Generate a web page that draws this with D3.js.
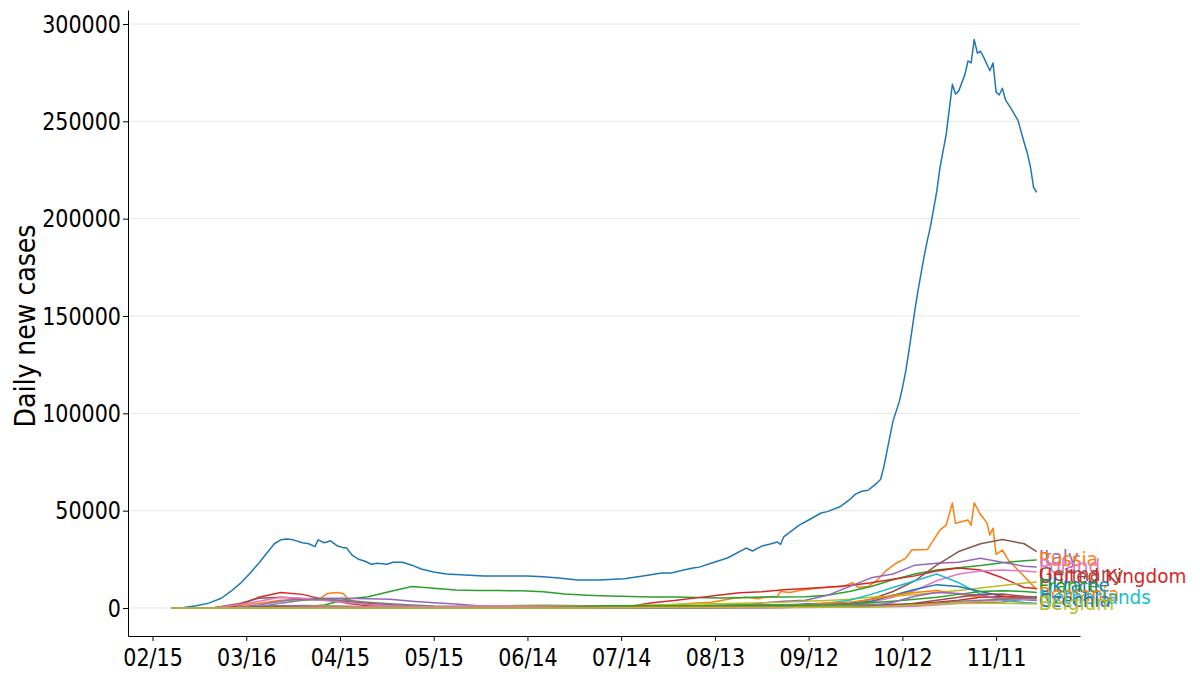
<!DOCTYPE html>
<html>
<head>
<meta charset="utf-8">
<script src="https://cdn.jsdelivr.net/npm/d3@7"></script>
<style>
  body { margin: 0; background: #fff; }
  text { font-family: "DejaVu Sans", sans-serif; }
</style>
</head>
<body>
<div id="chart"></div>
<script>
// days are counted from 2020-02-15
const startDate = new Date(2020, 1, 15);
const tickDays = [0, 30, 60, 90, 120, 150, 180, 210, 240, 270];
const yTicks = [0, 50000, 100000, 150000, 200000, 250000, 300000];

// Europe total (finer sampling)
const europeDays = [6, 10, 14, 18, 22, 25, 28, 31, 34, 37, 39, 41, 43, 45, 48, 50, 52, 53, 55, 57, 59, 61, 62, 64, 66, 68, 70, 72, 75, 77,
  80, 83, 86, 90, 94, 100, 106, 111, 116, 120, 125, 130, 136, 143, 151, 157, 163, 166, 170, 173, 175, 179, 184, 190, 192, 195, 198, 200, 201, 202,
  207, 210, 214, 216, 220, 223, 225, 227, 229, 231, 232, 233, 234, 235, 236, 237, 238, 239, 240, 241, 242, 243, 244, 245, 246, 247, 248, 249, 250, 251,
  252, 254, 256, 257, 258, 260, 261, 262, 263, 264, 265, 266, 268, 269, 270, 271, 272, 273, 275, 277, 279, 280, 281, 282, 283];
const europe = [0, 300, 1200, 2500, 5000, 8500, 12500, 17500, 23000, 29000, 33000, 35000, 35500, 35000, 33500, 33000, 31500, 35000, 33500, 34500, 32000, 31000, 31000, 27000, 25000, 24000, 22500, 23000, 22500, 23500,
  23500, 22000, 20000, 18500, 17500, 17000, 16500, 16400, 16500, 16400, 16000, 15400, 14400, 14400, 15000, 16400, 18000, 18000, 19500, 20500, 21000, 23100, 25700, 30800, 29300, 31800, 33000, 33900, 32600, 36500,
  42600, 45200, 48800, 49500, 52000, 55500, 58500, 60000, 60500, 63000, 64500, 66000, 72000, 80000, 88000, 96000, 101000, 106000, 113000, 121000, 131000, 142000, 153000, 163000, 172000, 181000, 189000, 196000, 205000, 214000,
  226000, 243000, 269000, 264000, 265500, 274000, 281000, 280000, 292000, 285000, 286000, 283000, 276000, 280000, 265000, 263500, 267000, 261000, 256000, 250500, 239000, 233500, 226500, 216000, 213500];

// France (finer sampling in autumn)
const franceDays = [6, 13, 20, 27, 34, 41, 48, 53, 56, 59, 61, 63, 69, 76, 83, 90, 104, 118, 132, 146, 160, 167, 173, 179, 186, 190, 194, 197, 200, 201,
  204, 207, 213, 217, 221, 224, 226, 229, 232, 235, 238, 241, 243, 248, 252, 254, 256, 257, 261, 262, 263, 265, 267, 268, 269, 270, 272, 274, 277, 280,
  282, 283];
const france = [0, 100, 300, 1000, 2500, 4000, 4500, 4200, 7500, 8000, 7500, 4000, 1500, 1200, 800, 500, 500, 400, 500, 600, 1200, 1800, 2500, 3000, 5000, 5500, 4800, 5800, 6000, 8500,
  8000, 9000, 10300, 10800, 11000, 13000, 10500, 11000, 14500, 19500, 23000, 25500, 29800, 30000, 40000, 42600, 53900, 43500, 45200, 42600, 54000, 48000, 44000, 37500, 41000, 27500, 29800, 24500, 19500, 14500,
  11000, 9500];

// other countries, weekly
const weekDays = [6, 13, 20, 27, 34, 41, 48, 55, 62, 69, 76, 83, 90, 97, 104, 111, 118, 125, 132, 139,
  146, 153, 160, 167, 174, 181, 188, 195, 202, 209, 216, 223, 230, 237, 244, 251, 258, 265, 272, 279, 283];
const russia = [0, 0, 0, 20, 100, 300, 500, 1500, 4500, 5800, 8500, 11000, 10200, 9200, 9000, 9000, 8800, 8300, 7200, 6600,
  6200, 5900, 5700, 5600, 5400, 5100, 5300, 5600, 5600, 5800, 6600, 8500, 11000, 14500, 17500, 19500, 20700, 21800, 23200, 24300, 24700];
const spain = [0, 0, 100, 1000, 5500, 8000, 7000, 4300, 2500, 1200, 500, 400, 300, 300, 250, 250, 300, 300, 300, 400,
  500, 900, 2700, 3800, 5200, 6500, 7800, 8300, 9400, 10000, 10700, 11500, 13000, 14800, 16500, 19000, 20500, 19500, 15500, 10500, 10000];
const uk = [0, 0, 50, 300, 1500, 3500, 4800, 5000, 5000, 4800, 4500, 3500, 2700, 2000, 1200, 800, 600, 500, 500, 600,
  700, 800, 800, 900, 1000, 1100, 1400, 2500, 3500, 4000, 6500, 11000, 15500, 17500, 22000, 23000, 23500, 25500, 23500, 21500, 21000];
const italy = [0, 20, 300, 2000, 5000, 5500, 4700, 4200, 3300, 2500, 1700, 1000, 600, 400, 300, 250, 250, 200, 200, 200,
  250, 300, 400, 600, 800, 1200, 1400, 1600, 1700, 1800, 2000, 2500, 4500, 8500, 14000, 22000, 29000, 33000, 35200, 33000, 29000];
const germany = [0, 0, 100, 1500, 3500, 5500, 5000, 3800, 2800, 1800, 1200, 900, 700, 500, 400, 350, 400, 500, 400, 450,
  500, 600, 800, 1000, 1200, 1300, 1400, 1300, 1300, 1500, 1800, 2000, 3000, 5500, 9000, 14000, 17500, 19000, 19500, 19000, 18500];
const turkey = [0, 0, 0, 10, 500, 2500, 4000, 4500, 4000, 3000, 2200, 1600, 1000, 900, 1000, 1100, 1300, 1400, 1300, 1100,
  1000, 1000, 1000, 1100, 1200, 1300, 1400, 1500, 1600, 1700, 1700, 1700, 1800, 1900, 2100, 2300, 2500, 2800, 3100, 4500, 6000];
const ukraine = [0, 0, 0, 10, 50, 150, 300, 400, 450, 450, 450, 450, 450, 500, 700, 800, 900, 900, 850, 900,
  1100, 1300, 1600, 1800, 2000, 2200, 2500, 2700, 3000, 3500, 3900, 4500, 5500, 6000, 6900, 8000, 9000, 10300, 11500, 12800, 13400];
const belgium = [0, 0, 50, 300, 900, 1200, 1300, 1200, 900, 700, 500, 350, 250, 150, 100, 100, 100, 100, 150, 300,
  500, 550, 450, 350, 400, 600, 800, 1000, 1300, 1800, 2500, 4000, 7000, 10500, 14000, 17500, 13000, 7000, 4000, 2800, 2500];
const czechia = [0, 0, 0, 10, 150, 250, 250, 200, 100, 80, 60, 50, 60, 80, 100, 150, 150, 100, 100, 120,
  150, 200, 250, 250, 250, 300, 500, 800, 1300, 2000, 2500, 2800, 3500, 6500, 9500, 12000, 11000, 8500, 6000, 4500, 4000];
const netherlands = [0, 0, 0, 100, 600, 1000, 1100, 1000, 800, 550, 350, 250, 200, 150, 100, 80, 80, 60, 60, 100,
  150, 250, 450, 550, 550, 500, 550, 700, 1100, 1700, 2500, 3000, 4200, 6500, 8000, 9000, 7000, 5500, 5200, 5000, 5000];
const romania = [0, 0, 0, 10, 80, 250, 350, 350, 350, 300, 300, 250, 200, 200, 200, 250, 350, 450, 600, 900,
  1200, 1200, 1200, 1200, 1200, 1300, 1400, 1300, 1300, 1400, 1600, 2000, 2700, 3500, 4500, 5500, 7000, 8500, 8800, 8500, 8000];
const portugal = [0, 0, 0, 10, 300, 700, 600, 500, 500, 300, 250, 300, 300, 300, 300, 300, 350, 350, 300, 250,
  200, 200, 200, 200, 200, 200, 200, 250, 300, 500, 700, 800, 1000, 1500, 2200, 3000, 4000, 5500, 6000, 5500, 5000];
const switzerland = [0, 0, 0, 100, 800, 1100, 1000, 600, 300, 200, 80, 50, 20, 20, 20, 20, 50, 100, 120, 150,
  150, 150, 200, 250, 280, 300, 300, 300, 350, 400, 450, 500, 1000, 3000, 6000, 8000, 7500, 6500, 5000, 4300, 4000];
const austria = [0, 0, 0, 50, 500, 800, 500, 250, 100, 70, 60, 50, 40, 30, 30, 30, 40, 80, 100, 100,
  100, 120, 130, 150, 150, 200, 250, 300, 400, 600, 700, 800, 900, 1200, 2500, 4000, 5500, 7000, 7200, 6000, 5500];
const sweden = [0, 0, 0, 20, 100, 300, 400, 500, 550, 600, 550, 600, 650, 800, 1000, 1000, 700, 500, 400, 300,
  250, 250, 250, 250, 250, 250, 200, 200, 250, 300, 350, 400, 500, 700, 900, 1500, 2500, 3500, 4200, 4500, 4600];
const hungary = [0, 0, 0, 0, 20, 40, 80, 100, 80, 50, 40, 30, 20, 10, 10, 10, 10, 15, 20, 20,
  20, 20, 30, 50, 100, 150, 300, 500, 700, 800, 850, 900, 900, 1000, 1600, 2500, 3500, 4000, 4500, 5000, 5000];
const greece = [0, 0, 0, 10, 50, 60, 50, 30, 20, 10, 10, 5, 5, 5, 5, 10, 15, 20, 30, 50,
  100, 150, 200, 200, 250, 250, 300, 300, 300, 350, 350, 400, 500, 1000, 1500, 2000, 2300, 2500, 2500, 2200, 2000];

// end labels as they appear at the right edge
const labelNames = ["Italy", "Russia", "Poland", "Germany", "United Kingdom", "Ukraine", "France", "Romania", "Netherlands", "Czechia", "Belgium"];
const labelColors = ["#9467bd", "#ff7f0e", "#e377c2", "#8c564b", "#d62728", "#1f77b4", "#2ca02c", "#ff7f0e", "#17becf", "#1f77b4", "#bcbd22"];
const labelValues = [26200, 25200, 21600, 17500, 16400, 11800, 11300, 7200, 5700, 4100, 2600];

const palette = ["#1f77b4", "#ff7f0e", "#2ca02c", "#d62728", "#9467bd", "#8c564b", "#e377c2", "#7f7f7f", "#bcbd22", "#17becf"];

const series = [
  { days: europeDays, values: europe },
  { days: franceDays, values: france },
  { days: weekDays, values: russia },
  { days: weekDays, values: spain },
  { days: weekDays, values: uk },
  { days: weekDays, values: italy },
  { days: weekDays, values: germany },
  { days: weekDays, values: turkey },
  { days: weekDays, values: ukraine },
  { days: weekDays, values: belgium },
  { days: weekDays, values: czechia },
  { days: weekDays, values: netherlands },
  { days: weekDays, values: romania },
  { days: weekDays, values: portugal },
  { days: weekDays, values: switzerland },
  { days: weekDays, values: austria },
  { days: weekDays, values: sweden },
  { days: weekDays, values: hungary },
  { days: weekDays, values: greece }
];

const width = 1200, height = 675;
const plotLeft = 128, plotRight = 1080, plotTop = 10, plotBottom = 636;

// the reference font is narrow and tall: draw bigger and squeeze the width
function squeeze(sel, k) {
    sel.each(function() {
        const w = this.getComputedTextLength();
        d3.select(this).attr("textLength", w * k).attr("lengthAdjust", "spacingAndGlyphs");
    });
}

const svg = d3.select("#chart").append("svg")
    .attr("width", width)
    .attr("height", height);

const x = d3.scaleLinear().domain([-7.85, 296.85]).range([plotLeft, plotRight]);
const y = d3.scaleLinear().domain([-14384, 307192]).range([plotBottom, plotTop]);

// horizontal grid
svg.append("g")
    .selectAll("line")
    .data(yTicks)
    .enter().append("line")
    .attr("x1", plotLeft).attr("x2", plotRight)
    .attr("y1", d => y(d)).attr("y2", d => y(d))
    .attr("stroke", "#e6e6e6")
    .attr("stroke-width", 1);

// lines
const line = d3.line()
    .x(d => x(d[0]))
    .y(d => y(d[1]));

svg.append("g")
    .selectAll("path")
    .data(series)
    .enter().append("path")
    .attr("d", s => line(s.days.map((d, i) => [d, s.values[i]])))
    .attr("fill", "none")
    .attr("stroke", (s, i) => palette[i % 10])
    .attr("stroke-width", 1.5)
    .attr("stroke-linejoin", "round");

// end labels
const lastDay = 283;
const endLabels = svg.append("g")
    .selectAll("text")
    .data(labelNames)
    .enter().append("text")
    .attr("x", x(lastDay) + 2)
    .attr("y", (d, i) => y(labelValues[i]))
    .attr("dy", "0.36em")
    .attr("fill", (d, i) => labelColors[i])
    .style("font-size", "20px")
    .text(d => d);
squeeze(endLabels, 0.92);

// axes
const fmt = d3.timeFormat("%m/%d");
const xAxis = svg.append("g")
    .attr("transform", `translate(0,${plotBottom})`)
    .call(d3.axisBottom(x)
        .tickValues(tickDays)
        .tickFormat(d => fmt(d3.timeDay.offset(startDate, d)))
        .tickSize(5)
        .tickSizeOuter(0));

const yAxis = svg.append("g")
    .attr("transform", `translate(${plotLeft},0)`)
    .call(d3.axisLeft(y)
        .tickValues(yTicks)
        .tickFormat(d3.format("d"))
        .tickSize(5)
        .tickSizeOuter(0));

[xAxis, yAxis].forEach(g => {
    g.select(".domain").attr("stroke", "#000").attr("stroke-width", 1);
    g.selectAll(".tick line").attr("stroke", "#000");
    g.selectAll(".tick text")
        .attr("fill", "#000")
        .style("font-size", "24px")
        .style("font-family", "DejaVu Sans, sans-serif");
});
xAxis.selectAll(".tick text").attr("y", 13).attr("dy", "0.71em");
yAxis.selectAll(".tick text").attr("x", -7).attr("dy", "0.34em");
squeeze(xAxis.selectAll(".tick text"), 0.86);
squeeze(yAxis.selectAll(".tick text"), 0.86);

const yLabel = svg.append("text")
    .attr("transform", "translate(35,326) rotate(-90)")
    .attr("text-anchor", "middle")
    .attr("fill", "#000")
    .style("font-size", "28px")
    .text("Daily new cases");
squeeze(yLabel, 0.9);
</script>
</body>
</html>
